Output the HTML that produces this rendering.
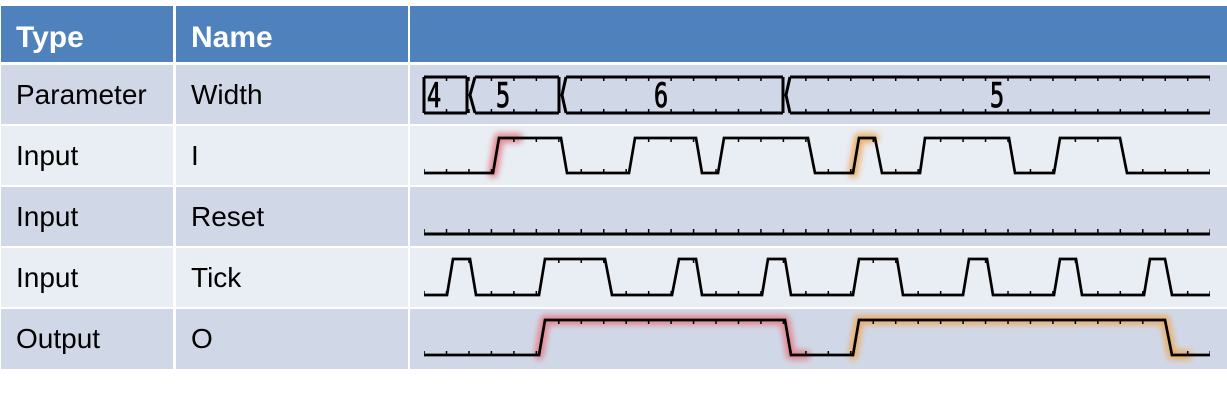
<!DOCTYPE html>
<html><head><meta charset="utf-8"><style>
html,body{margin:0;padding:0;background:#fff;}
body{width:1227px;height:401px;overflow:hidden;position:relative;font-family:"Liberation Sans",sans-serif;}
</style></head><body>
<svg width="1227" height="401" viewBox="0 0 1227 401" xmlns="http://www.w3.org/2000/svg" style="position:absolute;left:0;top:0">
<defs>
<pattern id="tk" patternUnits="userSpaceOnUse" x="423.3" y="0" width="22.46" height="400">
<rect x="0" y="0" width="1.5" height="400" fill="#000"/>
</pattern>
<filter id="gl" x="-20%" y="-50%" width="140%" height="200%"><feGaussianBlur stdDeviation="3"/></filter>
</defs>
<rect x="1" y="6" width="172" height="56" fill="#4f81bd"/>
<rect x="176" y="6" width="232" height="56" fill="#4f81bd"/>
<rect x="410" y="6" width="817" height="56" fill="#4f81bd"/>
<text x="16" y="47" font-size="30" font-weight="bold" fill="#fff">Type</text>
<text x="191" y="47" font-size="30" font-weight="bold" fill="#fff">Name</text>
<g>
<rect x="1" y="65" width="172" height="59" fill="#d0d8e8"/><rect x="176" y="65" width="232" height="59" fill="#d0d8e8"/><rect x="410" y="65" width="817" height="59" fill="#d0d8e8"/>
<rect x="1" y="126" width="172" height="59" fill="#e9edf4"/><rect x="176" y="126" width="232" height="59" fill="#e9edf4"/><rect x="410" y="126" width="817" height="59" fill="#e9edf4"/>
<rect x="1" y="187" width="172" height="59" fill="#d0d8e8"/><rect x="176" y="187" width="232" height="59" fill="#d0d8e8"/><rect x="410" y="187" width="817" height="59" fill="#d0d8e8"/>
<rect x="1" y="248" width="172" height="59" fill="#e9edf4"/><rect x="176" y="248" width="232" height="59" fill="#e9edf4"/><rect x="410" y="248" width="817" height="59" fill="#e9edf4"/>
<rect x="1" y="309" width="172" height="60" fill="#d0d8e8"/><rect x="176" y="309" width="232" height="60" fill="#d0d8e8"/><rect x="410" y="309" width="817" height="60" fill="#d0d8e8"/>
</g>
<g font-size="28" fill="#000">
<text x="16" y="104">Parameter</text><text x="191" y="104">Width</text>
<text x="16" y="165">Input</text><text x="191" y="165">I</text>
<text x="16" y="226">Input</text><text x="191" y="226">Reset</text>
<text x="16" y="287">Input</text><text x="191" y="287">Tick</text>
<text x="16" y="348">Output</text><text x="191" y="348">O</text>
</g>
<g filter="url(#gl)" fill="none" stroke-width="10" stroke-linejoin="round" stroke-linecap="round" opacity="0.9">
<polyline points="493,173 499,138 518,138" stroke="#e48088"/>
<polyline points="539,355 545,320 785,320 791,355 806,355" stroke="#e48088"/>
<polyline points="853,173 859,138 874,138" stroke="#eeaa60"/>
<polyline points="853,355 859,320 1165,320 1172,355 1188,355" stroke="#eeaa60"/>
</g>
<g fill="none" stroke="#000" stroke-width="3" stroke-linejoin="miter">
<line x1="424" y1="77" x2="424" y2="113"/>
<line x1="424" y1="77" x2="467" y2="77"/><line x1="424" y1="113" x2="467" y2="113"/><line x1="467" y1="77" x2="467" y2="113"/>
<polyline points="475,77 470,95 475,113"/>
<line x1="475" y1="77" x2="559" y2="77"/><line x1="475" y1="113" x2="559" y2="113"/><line x1="559" y1="77" x2="559" y2="113"/>
<polyline points="566,77 562,95 566,113"/>
<line x1="566" y1="77" x2="783" y2="77"/><line x1="566" y1="113" x2="783" y2="113"/><line x1="783" y1="77" x2="783" y2="113"/>
<polyline points="790,77 786,95 790,113"/>
<line x1="790" y1="77" x2="1210" y2="77"/><line x1="790" y1="113" x2="1210" y2="113"/>
</g>
<g fill="url(#tk)">
<rect x="424" y="77" width="786" height="4"/>
<rect x="424" y="109" width="786" height="4"/>
</g>
<g font-family="'DejaVu Sans Mono','Liberation Mono',monospace" font-size="34" fill="#000" stroke="#000" stroke-width="0.8">
<text x="434" y="107" text-anchor="middle" transform="translate(434 0) scale(0.7 1) translate(-434 0)">4</text>
<text x="503" y="107" text-anchor="middle" transform="translate(503 0) scale(0.7 1) translate(-503 0)">5</text>
<text x="661" y="107" text-anchor="middle" transform="translate(661 0) scale(0.7 1) translate(-661 0)">6</text>
<text x="997" y="107" text-anchor="middle" transform="translate(997 0) scale(0.7 1) translate(-997 0)">5</text>
</g>
<g fill="none" stroke="#000" stroke-width="2.7" stroke-linejoin="miter">
<polyline points="424,173 493,173 499,138 561,138 567,173 629,173 635,138 696,138 702,173 718,173 724,138 808,138 815,173 853,173 859,138 875,138 882,173 920,173 925,138 1009,138 1015,173 1054,173 1060,138 1120,138 1127,173 1210,173"/>
<polyline points="424,234 1210,234" stroke-width="3"/>
<polyline points="424,295 447,295 453,259 470,259 476,295 539,295 545,259 605,259 612,295 672,295 679,259 696,259 702,295 762,295 768,259 785,259 791,295 853,295 859,259 897,259 903,295 963,295 969,259 987,259 993,295 1054,295 1060,259 1076,259 1082,295 1144,295 1150,259 1165,259 1172,295 1210,295"/>
<polyline points="424,355 539,355 545,320 785,320 791,355 853,355 859,320 1165,320 1172,355 1210,355"/>
</g>
<g fill="url(#tk)">
<rect x="424" y="169" width="69" height="4"/><rect x="499" y="138" width="62" height="4"/><rect x="567" y="169" width="62" height="4"/><rect x="635" y="138" width="61" height="4"/><rect x="702" y="169" width="16" height="4"/><rect x="724" y="138" width="84" height="4"/><rect x="815" y="169" width="38" height="4"/><rect x="859" y="138" width="16" height="4"/><rect x="882" y="169" width="38" height="4"/><rect x="925" y="138" width="84" height="4"/><rect x="1015" y="169" width="39" height="4"/><rect x="1060" y="138" width="60" height="4"/><rect x="1127" y="169" width="83" height="4"/>
<rect x="424" y="229" width="786" height="4"/>
<rect x="424" y="291" width="23" height="4"/><rect x="453" y="259" width="17" height="4"/><rect x="476" y="291" width="63" height="4"/><rect x="545" y="259" width="60" height="4"/><rect x="612" y="291" width="60" height="4"/><rect x="679" y="259" width="17" height="4"/><rect x="702" y="291" width="60" height="4"/><rect x="768" y="259" width="17" height="4"/><rect x="791" y="291" width="62" height="4"/><rect x="859" y="259" width="38" height="4"/><rect x="903" y="291" width="60" height="4"/><rect x="969" y="259" width="18" height="4"/><rect x="993" y="291" width="61" height="4"/><rect x="1060" y="259" width="16" height="4"/><rect x="1082" y="291" width="62" height="4"/><rect x="1150" y="259" width="15" height="4"/><rect x="1172" y="291" width="38" height="4"/>
<rect x="424" y="351" width="115" height="4"/><rect x="545" y="320" width="240" height="4"/><rect x="791" y="351" width="62" height="4"/><rect x="859" y="320" width="306" height="4"/><rect x="1172" y="351" width="38" height="4"/>
</g>
</svg>
</body></html>
